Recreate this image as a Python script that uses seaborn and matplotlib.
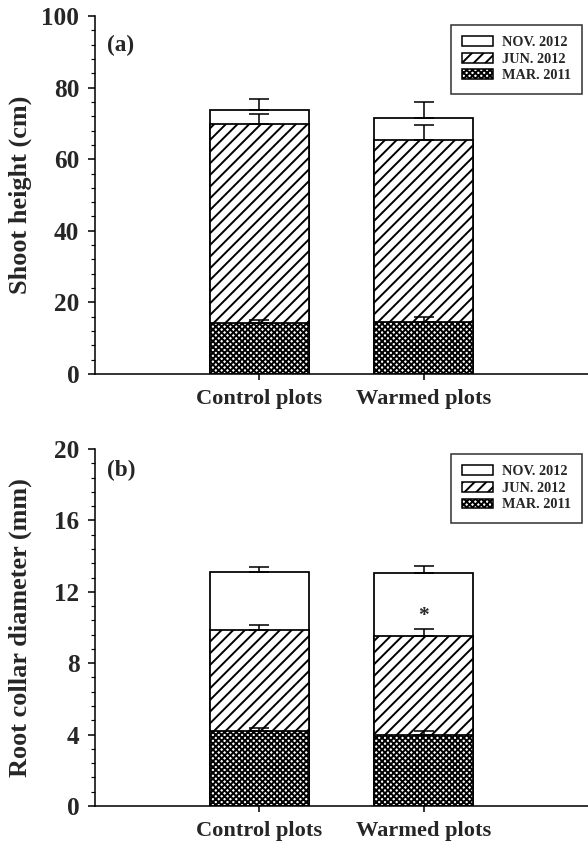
import matplotlib
matplotlib.use("Agg")
import matplotlib.pyplot as plt
import seaborn as sns
import pandas as pd
import numpy as np
from matplotlib.patches import Patch
from matplotlib.ticker import MultipleLocator, AutoMinorLocator

sns.set_style("ticks")
plt.rcParams['font.family'] = ['Liberation Serif', 'DejaVu Serif']
plt.rcParams['font.weight'] = 'bold'
plt.rcParams['hatch.color'] = 'black'
plt.rcParams['hatch.linewidth'] = 1.0

categories = ["Control plots", "Warmed plots"]
series = ["NOV. 2012", "JUN. 2012", "MAR. 2011"]
hatches = ["", "////", "x" * 8]

# Panel (a): shoot height (cm)
height_nov = [73.8, 71.6]
height_nov_err = [2.9, 4.3]
height_jun = [69.7, 65.4]
height_jun_err = [2.8, 4.1]
height_mar = [14.3, 14.5]
height_mar_err = [0.7, 1.3]

# Panel (b): root collar diameter (mm)
diam_nov = [13.1, 13.05]
diam_nov_err = [0.27, 0.4]
diam_jun = [9.85, 9.55]
diam_jun_err = [0.3, 0.35]
diam_mar = [4.2, 4.0]
diam_mar_err = [0.17, 0.22]

W, H, DPI = 588, 847, 140
fig = plt.figure(figsize=(W / DPI, H / DPI), dpi=DPI)

def px_axes(l, t, r, b):
    return fig.add_axes([l / W, 1 - b / H, (r - l) / W, (b - t) / H])

ax_a = px_axes(95, 16, 588, 374)
ax_b = px_axes(95, 449, 588, 806)

def draw_panel(ax, vals, errs, ymax, ymajor, ylabel, tag, legend_top):
    for name, v, e, h in zip(series, vals, errs, hatches):
        df = pd.DataFrame({"cat": categories, "val": v})
        n_before = len(ax.patches)
        sns.barplot(data=df, x="cat", y="val", ax=ax, width=0.6, color="white",
                    edgecolor="black", linewidth=0.9, saturation=1, errorbar=None)
        for p in ax.patches[n_before:]:
            p.set_hatch(h)
            p.set_facecolor("white")
            p.set_edgecolor("black")
        ax.errorbar(np.arange(len(categories)), v, yerr=[np.zeros(len(e)), e],
                    fmt="none", ecolor="black", elinewidth=0.8, capsize=5,
                    capthick=0.8, zorder=5)
    ax.set_xlim(-1, 2)
    ax.set_ylim(0, ymax)
    ax.yaxis.set_major_locator(MultipleLocator(ymajor))
    ax.yaxis.set_minor_locator(AutoMinorLocator(5))
    ax.set_xlabel("")
    ax.set_ylabel(ylabel, fontsize=13.5, fontweight="bold")
    ax.yaxis.set_label_coords(-0.128, 0.5)
    for s in ["top", "right"]:
        ax.spines[s].set_visible(False)
    for s in ["left", "bottom"]:
        ax.spines[s].set_linewidth(0.8)
        ax.spines[s].set_color("black")
    ax.tick_params(axis="y", which="major", length=3.5, width=0.8, pad=4.5,
                   labelsize=13, direction="out", color="black")
    ax.tick_params(axis="y", which="minor", length=2, width=0.6, direction="out", color="black")
    ax.tick_params(axis="x", which="major", length=3, width=0.8, pad=4.5,
                   labelsize=11.5, direction="out", color="black")
    for lab in ax.get_xticklabels() + ax.get_yticklabels():
        lab.set_fontweight("bold")
    ax.text(0.024, tag[1], tag[0], transform=ax.transAxes, ha="left", va="center",
            fontsize=12, fontweight="bold")
    handles = [Patch(facecolor="white", edgecolor="black", hatch=h, linewidth=0.8)
               for h in hatches]
    leg = ax.legend(handles, series, loc="upper right", bbox_to_anchor=(0.988, legend_top),
                    borderaxespad=0, fancybox=False, frameon=True, edgecolor="black",
                    prop={"size": 7.3, "weight": "bold"}, handlelength=2.2,
                    handleheight=0.7, labelspacing=0.25, handletextpad=0.6,
                    borderpad=0.8)
    leg.get_frame().set_linewidth(0.8)

draw_panel(ax_a, [height_nov, height_jun, height_mar],
           [height_nov_err, height_jun_err, height_mar_err],
           100, 20, "Shoot height (cm)", ("(a)", 0.919), 0.975)
draw_panel(ax_b, [diam_nov, diam_jun, diam_mar],
           [diam_nov_err, diam_jun_err, diam_mar_err],
           20, 4, "Root collar diameter (mm)", ("(b)", 0.941), 0.986)

ax_b.text(1, 10.65, "*", ha="center", va="center", fontsize=11, fontweight="bold")

fig.savefig("out.png", dpi=DPI)
